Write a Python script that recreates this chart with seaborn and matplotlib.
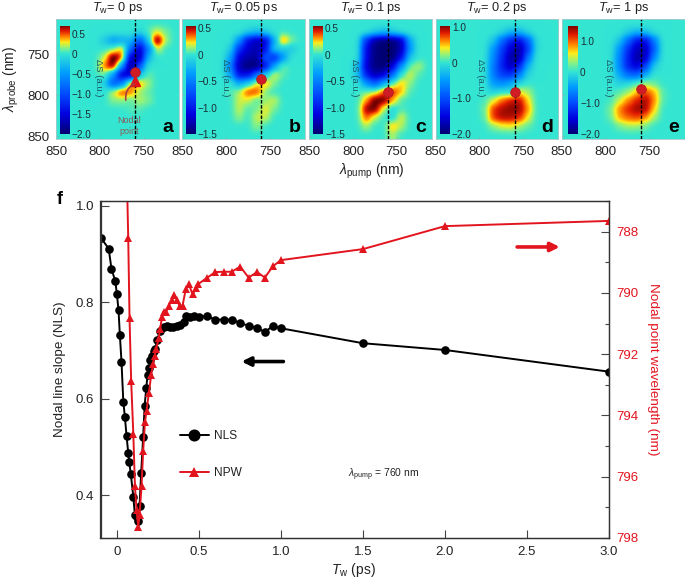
import numpy as np
import matplotlib
matplotlib.use('Agg')
import matplotlib.pyplot as plt
import seaborn as sns
from matplotlib.colors import LinearSegmentedColormap, TwoSlopeNorm
from matplotlib.ticker import MultipleLocator

# main panel
nls_tw = [-0.098, -0.05, -0.033, -0.01, 0.0, 0.01, 0.018, 0.028, 0.039, 0.049, 0.059, 0.069, 0.075, 0.085,
          0.10, 0.11, 0.122, 0.13, 0.138, 0.148, 0.16, 0.169, 0.179, 0.187, 0.195, 0.203, 0.213, 0.224, 0.234,
          0.244, 0.264, 0.285, 0.305, 0.325, 0.345, 0.366, 0.386, 0.406, 0.42, 0.447, 0.472, 0.498, 0.551,
          0.6, 0.65, 0.70, 0.752, 0.803, 0.854, 0.902, 0.951, 1.0, 1.5, 2.0, 3.0]
nls = [0.934, 0.911, 0.869, 0.844, 0.817, 0.783, 0.732, 0.677, 0.594, 0.561, 0.522, 0.488, 0.469, 0.443,
       0.397, 0.358, 0.354, 0.347, 0.378, 0.446, 0.52, 0.585, 0.622, 0.649, 0.663, 0.68, 0.689, 0.698, 0.702,
       0.721, 0.741, 0.748, 0.75, 0.749, 0.749, 0.75, 0.753, 0.759, 0.772, 0.77, 0.771, 0.77, 0.771,
       0.764, 0.764, 0.764, 0.757, 0.751, 0.747, 0.738, 0.751, 0.746, 0.715, 0.701, 0.656]

npw_tw = [0.06, 0.069, 0.077, 0.087, 0.10, 0.11, 0.12, 0.13, 0.138, 0.15, 0.16, 0.171, 0.181, 0.195, 0.209,
          0.22, 0.23, 0.24, 0.254, 0.264, 0.274, 0.285, 0.3, 0.315, 0.335, 0.35, 0.366, 0.382, 0.4, 0.42,
          0.439, 0.461, 0.484, 0.496, 0.551, 0.6, 0.65, 0.70, 0.752, 0.803, 0.854, 0.902, 0.951, 1.0, 1.5, 2.0, 3.0]
npw = [786.0, 788.2, 790.83, 792.88, 794.59, 796.31, 797.1, 797.64, 797.26, 796.31, 795.17, 794.22, 793.84,
       793.26, 792.68, 792.32, 792.06, 791.82, 791.48, 791.19, 790.8, 790.61, 790.63, 790.43, 790.23, 790.07,
       790.23, 790.42, 790.42, 789.87, 789.71, 790.05, 789.85, 789.71, 789.5, 789.32, 789.31, 789.31, 789.14,
       789.5, 789.32, 789.5, 789.13, 788.93, 788.57, 787.82, 787.65]

# delta S maps, 14 x 14 cells
grid_a = [
    [0, 0, 0, 0, 0, 0, 0, 0, 0, 0, 0, 0, 0, 0],
    [0, 0, 0, 0, 0, 0, 0, 0, 0, -0.1, 0.05, 0.25, 0.1, 0],
    [0, 0, 0, 0, 0, -0.2, -0.5, -0.4, -0.3, -1.0, -0.2, 0.9, 0.15, 0],
    [0, 0, 0, 0, 0, 0, 0.1, 0.4, -0.8, -1.7, -0.7, 0.25, 0, 0],
    [0, 0, 0, 0, 0, 0.2, 0.85, 0.6, -1.7, -1.8, -0.3, 0, 0, 0],
    [0, 0, 0, 0, 0, 0.45, 0.8, -0.5, -2.0, -1.0, 0, 0, 0, 0],
    [0, 0, 0, 0, 0, 0.1, -0.5, -1.7, -1.7, -0.2, 0.08, 0, 0, 0],
    [0, 0, 0, 0, 0, -0.15, -1.0, -0.7, 0.5, 0.4, 0.15, 0, 0, 0],
    [0, 0, 0, 0, 0, -0.05, 0.25, 0.6, 0.45, 0.15, 0.07, 0, 0, 0],
    [0, 0, 0, 0, 0, 0, 0.12, 0.12, 0.05, 0.2, 0.12, 0, 0, 0],
    [0, 0, 0, 0, 0, 0, 0, 0, 0.05, 0.05, 0, 0, 0, 0],
    [0, 0, 0, 0, 0, 0, 0, 0, 0, 0, 0, 0, 0, 0],
    [0, 0, 0, 0, 0, 0, 0, 0, 0, 0, 0, 0, 0, 0],
    [0, 0, 0, 0, 0, 0, 0, 0, 0, 0, 0, 0, 0, 0],
]
grid_b = [
    [0, 0, 0, 0, 0, 0, 0, 0, 0, 0, 0, 0, 0, 0],
    [0, 0, 0, 0, 0, 0, 0, -0.1, -0.2, -0.1, 0, 0, 0, 0],
    [0, 0, 0, 0, 0, 0, -0.4, -1.1, -1.3, -1.2, -0.3, 0.4, 0.08, 0],
    [0, 0, 0, 0, 0, -0.1, -0.9, -1.2, -1.3, -1.1, -0.1, -0.15, -0.15, 0],
    [0, 0, 0, 0, 0, -0.3, -1.2, -1.3, -1.4, -0.6, -1.0, -0.4, 0, 0],
    [0, 0, 0, 0, 0, -0.5, -1.3, -1.5, -1.5, -1.1, -0.3, 0.08, 0, 0],
    [0, 0, 0, 0, 0, -0.3, -1.1, -1.1, -0.6, -0.1, 0.22, 0.04, 0, 0],
    [0, 0, 0, 0, 0, 0, -0.3, -0.1, 0.22, 0.3, 0.08, 0, 0, 0],
    [0, 0, 0, 0, 0, 0.03, 0.15, 0.42, 0.42, 0.08, 0, 0, 0, 0],
    [0, 0, 0, 0, 0, 0, 0.18, 0.18, 0.03, 0.12, 0.18, 0, 0, 0],
    [0, 0, 0, 0, 0, 0, 0.18, 0.03, 0.08, 0.22, 0.08, 0, 0, 0],
    [0, 0, 0, 0, 0, 0, 0.12, 0, 0.18, 0.18, 0, 0, 0, 0],
    [0, 0, 0, 0, 0, 0, 0, 0, 0.12, 0, 0, 0, 0, 0],
    [0, 0, 0, 0, 0, 0, 0, 0, 0, 0, 0, 0, 0, 0],
]
grid_c = [
    [0, 0, 0, 0, 0, 0, 0, 0, 0, 0, 0, 0, 0, 0],
    [0, 0, 0, 0, 0, 0, 0, -0.1, -0.2, -0.1, 0, 0, 0, 0],
    [0, 0, 0, 0, 0, 0, -0.9, -1.4, -1.5, -1.5, -1.3, -0.3, 0, 0],
    [0, 0, 0, 0, 0, 0, -1.1, -1.45, -1.5, -1.5, -1.3, -0.4, 0, 0],
    [0, 0, 0, 0, 0, 0, -1.1, -1.45, -1.5, -1.5, -1.1, -0.15, 0, 0],
    [0, 0, 0, 0, 0, -0.15, -1.2, -1.45, -1.5, -1.2, -0.4, 0.08, 0.15, 0],
    [0, 0, 0, 0, 0, -0.15, -1.0, -1.3, -1.2, -0.6, 0, 0.2, 0.03, 0],
    [0, 0, 0, 0, 0, 0, -0.4, -0.7, -0.3, 0.05, 0.28, 0.1, 0, 0],
    [0, 0, 0, 0, 0, 0, 0.08, 0.15, 0.4, 0.45, 0.28, 0.03, 0, 0],
    [0, 0, 0, 0, 0, 0, 0.3, 0.6, 0.6, 0.3, 0.03, 0, 0, 0],
    [0, 0, 0, 0, 0, 0, 0.55, 0.6, 0.15, -0.08, 0.03, 0, 0, 0],
    [0, 0, 0, 0, 0, 0, 0.4, 0.15, 0, -0.08, 0.22, 0, 0, 0],
    [0, 0, 0, 0, 0, 0, 0.15, 0, 0, 0.3, 0.15, 0, 0, 0],
    [0, 0, 0, 0, 0, 0, 0, 0, 0, 0.15, 0, 0, 0, 0],
]
grid_d = [
    [0, 0, 0, 0, 0, 0, 0, 0, 0, 0, 0, 0, 0, 0],
    [0, 0, 0, 0, 0, 0, 0, -0.1, -0.3, -0.3, -0.08, 0, 0, 0],
    [0, 0, 0, 0, 0, 0, -0.2, -0.8, -1.3, -1.5, -0.9, -0.05, 0, 0],
    [0, 0, 0, 0, 0, 0, -0.5, -1.1, -1.6, -1.8, -1.1, -0.05, 0, 0],
    [0, 0, 0, 0, 0, 0, -0.6, -1.2, -1.8, -1.8, -0.7, 0, 0, 0],
    [0, 0, 0, 0, 0, 0, -0.7, -1.3, -1.7, -1.3, -0.3, 0, 0, 0],
    [0, 0, 0, 0, 0, 0, -0.7, -1.1, -1.2, -0.7, -0.08, 0, 0, 0],
    [0, 0, 0, 0, 0, 0, -0.5, -0.6, -0.4, -0.1, 0, 0, 0, 0],
    [0, 0, 0, 0, 0, 0, -0.15, -0.05, -0.1, 0.4, 0.25, 0, 0, 0],
    [0, 0, 0, 0, 0, 0.03, 0.35, 0.7, 0.9, 0.95, 0.45, 0, 0, 0],
    [0, 0, 0, 0, 0, 0.1, 0.8, 0.95, 1.0, 1.0, 0.6, 0, 0, 0],
    [0, 0, 0, 0, 0, 0.06, 0.8, 0.95, 0.95, 0.85, 0.4, 0, 0, 0],
    [0, 0, 0, 0, 0, 0, 0.2, 0.35, 0.4, 0.25, 0.1, 0, 0, 0],
    [0, 0, 0, 0, 0, 0, 0, 0, 0, 0, 0, 0, 0, 0],
]
grid_e = [
    [0, 0, 0, 0, 0, 0, 0, 0, 0, 0, 0, 0, 0, 0],
    [0, 0, 0, 0, 0, 0, 0, -0.15, -0.3, -0.2, -0.03, 0, 0, 0],
    [0, 0, 0, 0, 0, 0, -0.2, -0.8, -1.4, -1.5, -0.7, 0, 0, 0],
    [0, 0, 0, 0, 0, 0, -0.5, -1.2, -1.7, -1.7, -0.9, 0, 0, 0],
    [0, 0, 0, 0, 0, 0, -0.6, -1.3, -1.8, -1.7, -0.6, 0, 0, 0],
    [0, 0, 0, 0, 0, 0, -0.6, -1.3, -1.6, -1.1, -0.15, 0, 0, 0],
    [0, 0, 0, 0, 0, 0, -0.4, -0.8, -0.9, -0.4, 0, 0, 0, 0],
    [0, 0, 0, 0, 0, 0, -0.15, -0.1, 0.08, 0.3, 0.15, 0, 0, 0],
    [0, 0, 0, 0, 0, 0, 0.1, 0.3, 0.7, 1.1, 0.8, 0.1, 0, 0],
    [0, 0, 0, 0, 0, 0.04, 0.45, 0.9, 1.2, 1.4, 0.9, 0.1, 0, 0],
    [0, 0, 0, 0, 0, 0.2, 0.9, 1.2, 1.4, 1.4, 0.7, 0, 0, 0],
    [0, 0, 0, 0, 0, 0.15, 0.8, 1.0, 1.1, 0.9, 0.35, 0, 0, 0],
    [0, 0, 0, 0, 0, 0, 0.2, 0.35, 0.35, 0.2, 0, 0, 0, 0],
    [0, 0, 0, 0, 0, 0, 0, 0, 0, 0, 0, 0, 0, 0],
]

panel_titles = ['0', '0.05', '0.1', '0.2', '1']
panel_letters = ['a', 'b', 'c', 'd', 'e']
panel_grids = [grid_a, grid_b, grid_c, grid_d, grid_e]
panel_ranges = [(-2.0, 0.7), (-1.5, 0.55), (-1.5, 0.55), (-2.0, 1.05), (-2.0, 1.5)]
panel_nodal = [772, 780, 796, 796, 792]
bar_ticks = [
    [-2.0, -1.5, -1.0, -0.5, 0, 0.5],
    [-1.5, -1.0, -0.5, 0, 0.5],
    [-1.5, -1.0, -0.5, 0, 0.5],
    [-2.0, -1.0, 0, 1.0],
    [-2.0, -1.0, 0, 1.0],
]

W, H = 685, 578
sns.set_style('ticks')
plt.rcParams['font.family'] = ['Liberation Sans', 'DejaVu Sans']
plt.rcParams['mathtext.fontset'] = 'custom'
plt.rcParams['mathtext.rm'] = 'Liberation Sans'
plt.rcParams['mathtext.it'] = 'Liberation Sans:italic'
plt.rcParams['axes.unicode_minus'] = True

dark = '#222222'
red = '#e2141e'

spec_cmap = LinearSegmentedColormap.from_list('spec', [
    (0.0, (0.0, 0.0, 0.45)), (0.12, (0.0, 0.0, 0.88)), (0.25, (0.0, 0.3, 1.0)), (0.38, (0.0, 0.62, 1.0)),
    (0.5, (0.2, 0.9, 0.83)), (0.6, (0.55, 0.95, 0.5)), (0.7, (1.0, 0.93, 0.1)), (0.8, (1.0, 0.5, 0.0)),
    (0.9, (0.88, 0.1, 0.0)), (1.0, (0.45, 0.0, 0.0))])


def px_axes(fig, left, top, right, bottom):
    return fig.add_axes([left / W, 1 - bottom / H, (right - left) / W, (bottom - top) / H])


def px_text(fig, x, y, s, **kw):
    kw.setdefault('ha', 'center')
    kw.setdefault('va', 'center')
    fig.text(x / W, 1 - y / H, s, **kw)


fig = plt.figure(figsize=(W / 100, H / 100), dpi=100)

panel_left = [56, 182.3, 309.3, 435.7, 561.7]
panel_right = [179, 305.3, 431.7, 558.3, 684.5]
bar_left = [59.7, 185.7, 313.3, 440, 568.3]
label_x = [99, 226, 355, 480, 608]

for i in range(5):
    ax = px_axes(fig, panel_left[i], 19.3, panel_right[i], 139.3)
    vmin, vmax = panel_ranges[i]
    norm = TwoSlopeNorm(vmin=vmin, vcenter=0, vmax=vmax)
    ax.imshow(np.array(panel_grids[i]), cmap=spec_cmap, norm=norm, aspect='auto',
              interpolation='gaussian', extent=(850, 710, 854, 707))
    ax.axvline(760, color='black', lw=1.0, ls=(0, (2.5, 1.2)))
    ax.plot([760], [panel_nodal[i]], 'o', color='#d01c24', ms=7, mec='#b01820', mew=0.5)
    ax.set_xlim(850, 710)
    ax.set_ylim(854, 707)
    ax.set_xticks([850, 800, 750])
    ax.set_yticks([750, 800, 850])
    ax.tick_params(axis='x', length=1.5, width=0.5, color='#88aaaa', labelsize=9.5, labelcolor=dark, pad=4.5,
                   direction='in')
    ax.tick_params(axis='y', length=1.5, width=0.5, color='#88aaaa', labelsize=9.5, labelcolor=dark, pad=4.5,
                   direction='in', labelleft=(i == 0))
    for sp in ax.spines.values():
        sp.set_color('#a8c8c8')
        sp.set_linewidth(0.6)

    # colour bar sits inside the panel
    cax = px_axes(fig, bar_left[i], 25.5, bar_left[i] + 9.7, 134)
    cax.imshow(np.linspace(vmax, vmin, 256)[:, None], cmap=spec_cmap, norm=norm, aspect='auto',
               extent=(0, 1, vmin, vmax))
    cax.set_xticks([])
    cax.yaxis.tick_right()
    cax.set_yticks(bar_ticks[i])
    cax.set_yticklabels([('0' if t == 0 else f'{t:.1f}'.replace('-', '\u2212')) for t in bar_ticks[i]])
    cax.tick_params(axis='y', length=0, labelsize=7.2, labelcolor='#1c2c34', pad=1.5)
    for sp in cax.spines.values():
        sp.set_visible(False)

    px_text(fig, label_x[i], 78, '\u0394S (a.u.)', rotation=-90, fontsize=6.8, color='#1d5a68')
    px_text(fig, (panel_left[i] + panel_right[i]) / 2, 8,
            r'$T_{\mathrm{w}}$= ' + panel_titles[i] + ' ps', fontsize=9.2, color=dark)
    px_text(fig, panel_right[i] - 11, 127.5, panel_letters[i], fontsize=14, fontweight='bold', color='black')

    if i == 0:
        ax.plot([760], [782], '^', color='#e0141c', ms=6.5)
        ax.annotate('', xy=(761, 786), xytext=(770.5, 806),
                    arrowprops=dict(arrowstyle='-', color='#a84040', lw=1.2,
                                    connectionstyle='arc3,rad=-0.35', shrinkA=0, shrinkB=0))
        ax.text(767, 830.5, 'Nodal', fontsize=6.5, color='#8c5a55', ha='center', va='center', zorder=1)
        ax.text(767, 844, 'point', fontsize=6.5, color='#8c5a55', ha='center', va='center', zorder=1)
        ax.set_ylabel(r'$\lambda_{\mathrm{probe}}$ (nm)', fontsize=10, color=dark, labelpad=5)

px_text(fig, 372, 171, r'$\lambda_{\mathrm{pump}}$ (nm)', fontsize=10, color=dark)

# main panel
ax1 = px_axes(fig, 100.5, 201, 609, 538)
sns.lineplot(x=nls_tw, y=nls, ax=ax1, color='black', lw=1.4, marker='o', markersize=6.2, markeredgewidth=0,
             estimator=None, sort=False, label='NLS', legend=False)
ax1.set_xlim(-0.1, 3.0)
ax1.set_ylim(0.311, 1.01)
ax1.set_xticks([0, 0.5, 1.0, 1.5, 2.0, 2.5, 3.0])
ax1.set_xticklabels(['0', '0.5', '1.0', '1.5', '2.0', '2.5', '3.0'])
ax1.set_yticks([0.4, 0.6, 0.8, 1.0])
ax1.tick_params(axis='both', direction='in', length=5.8, width=0.8, color='#444444', labelsize=9.5,
                labelcolor=dark, pad=4.5)
ax1.tick_params(axis='x', pad=6)
ax1.set_xlabel('')
px_text(fig, 60, 369, 'Nodal line slope (NLS)', rotation=90, fontsize=9.7, color=dark)
px_text(fig, 353, 570, r'$T_{\mathrm{w}}$ (ps)', fontsize=10, color=dark)
px_text(fig, 60, 200, 'f', fontsize=13, fontweight='bold', color='black')

ax2 = ax1.twinx()
sns.lineplot(x=npw_tw, y=npw, ax=ax2, color=red, lw=1.4, marker='^', markersize=5.5, markeredgewidth=0,
             estimator=None, sort=False, label='NPW', legend=False)
ax2.set_ylim(798, 787)
ax2.set_yticks([788, 790, 792, 794, 796, 798])
ax2.yaxis.set_minor_locator(MultipleLocator(1))
ax2.tick_params(axis='y', which='major', direction='in', length=5.8, width=0.8, color='#444444', labelsize=9.5,
                labelcolor=red, pad=5)
ax2.tick_params(axis='y', which='minor', direction='in', length=3, width=0.8, color='#444444')
ax2.set_ylabel('')
px_text(fig, 653, 369, 'Nodal point wavelength (nm)', rotation=-90, fontsize=9.7, color=red)

for ax in (ax1, ax2):
    for sp in ax.spines.values():
        sp.set_color('#333333')
        sp.set_linewidth(0.9)

ax2.annotate('', xy=(0.76, 0.677), xytext=(1.015, 0.677), xycoords=ax1.transData, textcoords=ax1.transData,
             arrowprops=dict(arrowstyle='-|>', color='black', lw=2.6, mutation_scale=13, shrinkA=0, shrinkB=0))
ax2.annotate('', xy=(2.70, 788.5), xytext=(2.44, 788.5), xycoords='data', textcoords='data',
             arrowprops=dict(arrowstyle='-|>', color=red, lw=2.6, mutation_scale=13, shrinkA=0, shrinkB=0))

handles = ax1.get_lines()[:1] + ax2.get_lines()[:1]
ax2.legend(handles, ['NLS', 'NPW'], loc='center left', bbox_to_anchor=(0.156, 0.248), frameon=False, fontsize=8.6,
           labelcolor=dark, handlelength=2.45, handletextpad=0.45, labelspacing=2.1, markerscale=1.4, borderpad=0,
           borderaxespad=0)

px_text(fig, 348, 475, r'$\lambda_{\mathrm{pump}}$ = 760 nm', ha='left', fontsize=7.4, color=dark)

fig.savefig('out.png', dpi=100)
